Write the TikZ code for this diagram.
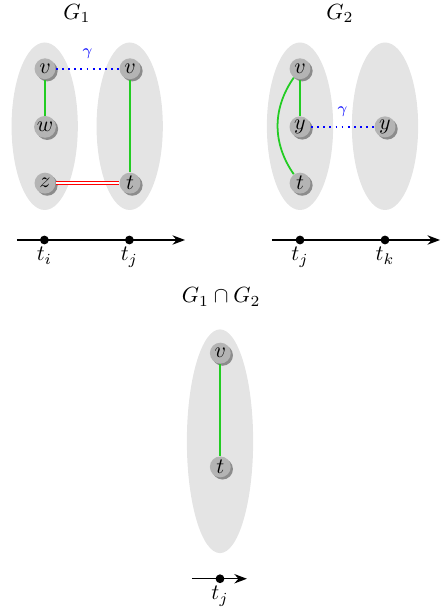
\documentclass[tikz,border=0pt]{standalone}
\usepackage{amsmath}
\usepackage{amssymb}
\usepackage{tikz}
\usetikzlibrary{arrows.meta}
\definecolor{zarfGri}{HTML}{E4E4E4}
\definecolor{dugumGri}{HTML}{B4B4B4}
\definecolor{golgeGri}{HTML}{8C8C8C}
\definecolor{kenarYesil}{HTML}{22CC22}

\tikzset{
  vtx/.style={circle,fill=dugumGri,inner sep=0.5pt,minimum size=9.5pt,
    preaction={fill=golgeGri,transform canvas={shift={(1pt,-1pt)}}}},
  blob/.style={fill=zarfGri,draw=none},
  gedge/.style={kenarYesil,thick},
  gamma/.style={blue,dotted,thick},
  tdot/.style={circle,fill=black,inner sep=0pt,minimum size=4pt},
}

\begin{document}
\begin{tikzpicture}[>=Stealth]
\useasboundingbox (0,0) rectangle (7.088,-9.776);

% G_1
\node at (1.23,-0.22) {$G_1$};
\fill[blob] (0.715,-2.02) ellipse (0.53 and 1.34);
\fill[blob] (2.075,-2.02) ellipse (0.53 and 1.34);
\node[vtx] (v1) at (0.72,-1.10) {$v$};
\node[vtx] (w1) at (0.72,-2.03) {$w$};
\node[vtx] (z1) at (0.72,-2.93) {$z$};
\node[vtx] (v2) at (2.08,-1.10) {$v$};
\node[vtx] (t1) at (2.08,-2.93) {$t$};
\draw[gedge] (v1)--(w1);
\draw[gedge] (v2)--(t1);
\draw[gamma] (v1)--(v2) node[midway,above=1pt,blue]{\scriptsize $\gamma$};
\draw[red,double=white,double distance=1pt] (z1)--(t1);
\coordinate (a1) at (0.27,-3.84);
\coordinate (b1) at (2.96,-3.84);
\draw[->,semithick] (a1)--(b1);
\node[tdot,label={[inner sep=1pt]below:$t_i$}] (ti) at (0.71,-3.84) {};
\node[tdot,label={[inner sep=1pt]below:$t_j$}] (tj) at (2.07,-3.84) {};

% G_2
\node at (5.44,-0.22) {$G_2$};
\fill[blob] (4.80,-2.02) ellipse (0.53 and 1.34);
\fill[blob] (6.16,-2.02) ellipse (0.53 and 1.34);
\node[vtx] (v3) at (4.80,-1.10) {$v$};
\node[vtx] (y1) at (4.80,-2.03) {$y$};
\node[vtx] (t2) at (4.80,-2.93) {$t$};
\node[vtx] (y2) at (6.16,-2.03) {$y$};
\draw[gedge] (v3)--(y1);
\draw[gedge] (v3) to[bend right=35] (t2);
\draw[gamma] (y1)--(y2) node[midway,above=1pt,blue]{\scriptsize $\gamma$};
\coordinate (a2) at (4.35,-3.84);
\coordinate (b2) at (7.04,-3.84);
\draw[->,semithick] (a2)--(b2);
\node[tdot,label={[inner sep=1pt]below:$t_j$}] (tj2) at (4.80,-3.84) {};
\node[tdot,label={[inner sep=1pt]below:$t_k$}] (tk) at (6.16,-3.84) {};

% G_1 \cap G_2
\node at (3.54,-4.75) {$G_1\cap G_2$};
\fill[blob] (3.52,-7.06) ellipse (0.53 and 1.79);
\node[vtx] (v4) at (3.525,-5.65) {$v$};
\node[vtx] (t3) at (3.525,-7.47) {$t$};
\draw[gedge] (v4)--(t3);
\coordinate (a3) at (3.07,-9.26);
\coordinate (b3) at (3.95,-9.26);
\draw[->,semithick] (a3)--(b3);
\node[tdot,label={[inner sep=1pt]below:$t_j$}] (tj3) at (3.52,-9.26) {};
\end{tikzpicture}
\end{document}
